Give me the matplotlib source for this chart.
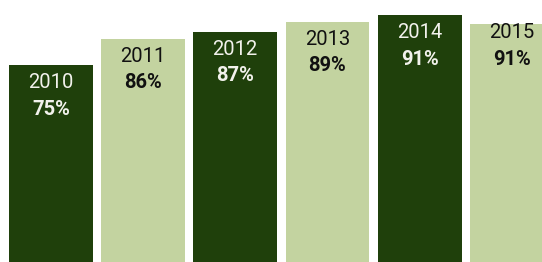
import matplotlib
matplotlib.use("Agg")
import matplotlib.pyplot as plt

# values
years = ["2010", "2011", "2012", "2013", "2014", "2015"]
pct_values = [75, 86, 87, 89, 91, 91]
# drawn bar heights (same % scale, as they appear in the picture)
bar_heights = [74.3, 84.2, 86.8, 90.6, 93.2, 89.8]

dark = "#1f400b"
light = "#c3d3a0"
bar_colors = [dark, light, dark, light, dark, light]
text_colors = ["#f2f2ec", "#111111", "#f2f2ec", "#111111", "#f2f2ec", "#111111"]

plt.rcParams["font.family"] = ["Roboto", "DejaVu Sans"]

fig = plt.figure(figsize=(5.42, 2.62), dpi=100)
ax = fig.add_axes([0, 0, 1, 1])
ax.set_axis_off()

x = list(range(len(years)))
ax.bar(x, bar_heights, width=0.908, color=bar_colors, linewidth=0)
ax.set_xlim(-0.5515, 5.327)
ax.set_ylim(0, 98.87)

# labels sit under the top of the tallest bar sharing the same value
for i, (yr, v) in enumerate(zip(years, pct_values)):
    anchor = max(h for h, pv in zip(bar_heights, pct_values) if pv == v)
    ax.annotate(yr, (i, anchor), xytext=(0, -23), textcoords="offset pixels",
                ha="center", va="baseline", fontsize=14.5, fontweight="normal",
                color=text_colors[i])
    ax.annotate(f"{v}%", (i, anchor), xytext=(0, -49.5), textcoords="offset pixels",
                ha="center", va="baseline", fontsize=14.5, fontweight="bold",
                color=text_colors[i])

fig.savefig("out.png", dpi=100)
